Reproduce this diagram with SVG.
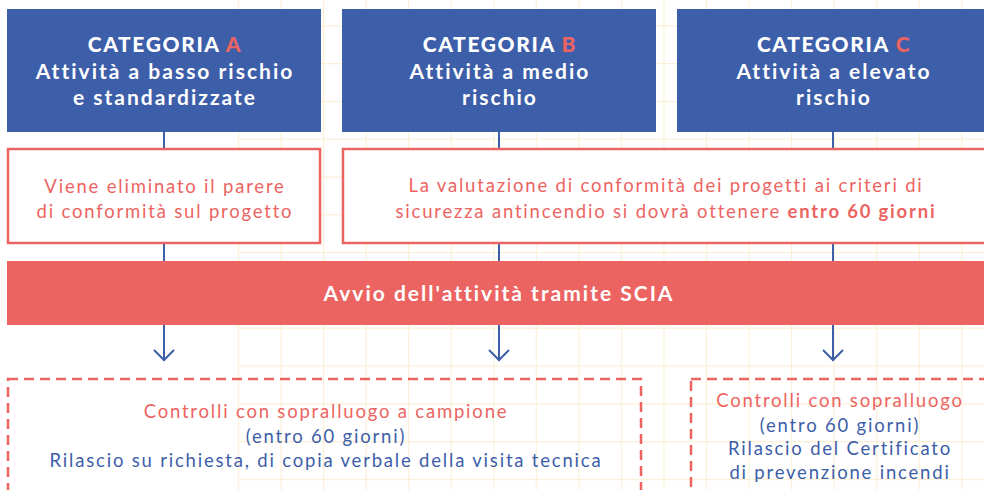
<svg xmlns="http://www.w3.org/2000/svg" width="984" height="490" viewBox="0 0 984 490">
<defs>
<pattern id="grid" x="237.9" y="25.2" width="42.55" height="37.8" patternUnits="userSpaceOnUse">
<path d="M0.5 0 V37.8 M0 0.5 H42.55" fill="none" stroke="#fbf0d6" stroke-width="1.3"/>
</pattern>
</defs>
<style>
.blue{fill:#3d5ea9}
.rbox{fill:#fff;stroke:#ec6461;stroke-width:2.5}
.dbox{fill:none;stroke:#ec6461;stroke-width:2.5;stroke-dasharray:10 6}
.band{fill:#ec6461}
.conn{stroke:#3d5ea9;stroke-width:2;fill:none}
text{font-family:Lato,"Liberation Sans",sans-serif;text-anchor:middle}
.th{fill:#fff;font-weight:bold;font-size:21px;letter-spacing:2px}
.cat{font-weight:900;letter-spacing:1.6px}
.ac{fill:#ec6461}
.rt{fill:#ec6461;font-size:18.5px;letter-spacing:1.8px}
.bt{fill:#3d5ea9;font-size:18.5px;letter-spacing:1.8px}
.bold{font-weight:bold}
</style>
<rect width="984" height="490" fill="#fff"/>
<rect x="237" y="0" width="747" height="490" fill="url(#grid)"/>
<g id="connectors">
<path class="conn" d="M164 131 V361 M499 131 V361 M833 131 V361"/>
<path class="conn" d="M154 350 L164 360 L174 350 M489 350 L499 360 L509 350 M823 350 L833 360 L843 350"/>
</g>
<g id="catA">
<rect class="blue" x="7" y="9" width="314" height="123"/>
<text class="th cat" x="165" y="52">CATEGORIA <tspan class="ac">A</tspan></text>
<text class="th" x="165" y="79">Attività a basso rischio</text>
<text class="th" x="165" y="105">e standardizzate</text>
</g>
<g id="catB">
<rect class="blue" x="342" y="9" width="314" height="123"/>
<text class="th cat" x="500" y="52">CATEGORIA <tspan class="ac">B</tspan></text>
<text class="th" x="500" y="79">Attività a medio</text>
<text class="th" x="500" y="105">rischio</text>
</g>
<g id="catC">
<rect class="blue" x="677" y="9" width="320" height="123"/>
<text class="th cat" x="834" y="52">CATEGORIA <tspan class="ac">C</tspan></text>
<text class="th" x="834" y="79">Attività a elevato</text>
<text class="th" x="834" y="105">rischio</text>
</g>
<g id="parereA">
<rect class="rbox" x="8" y="149" width="312" height="94"/>
<text class="rt" x="165" y="193">Viene eliminato il parere</text>
<text class="rt" x="165" y="218">di conformità sul progetto</text>
</g>
<g id="valutazioneBC">
<rect class="rbox" x="343" y="149" width="660" height="94"/>
<text class="rt" x="666" y="192">La valutazione di conformità dei progetti ai criteri di</text>
<text class="rt" x="666" y="218">sicurezza antincendio si dovrà ottenere <tspan class="bold">entro 60 giorni</tspan></text>
</g>
<g id="scia">
<rect class="band" x="7" y="261" width="977" height="64"/>
<text class="th" x="499" y="301">Avvio dell'attività tramite SCIA</text>
</g>
<g id="controlliAB">
<rect class="dbox" x="8" y="379" width="633" height="120"/>
<text class="rt" x="326" y="418">Controlli con sopralluogo a campione</text>
<text class="bt" x="326" y="443">(entro 60 giorni)</text>
<text class="bt" x="326" y="467">Rilascio su richiesta, di copia verbale della visita tecnica</text>
</g>
<g id="controlliC">
<rect class="dbox" x="691" y="379" width="310" height="120"/>
<text class="rt" x="840" y="407">Controlli con sopralluogo</text>
<text class="bt" x="840" y="432">(entro 60 giorni)</text>
<text class="bt" x="840" y="455">Rilascio del Certificato</text>
<text class="bt" x="840" y="479">di prevenzione incendi</text>
</g>
</svg>
